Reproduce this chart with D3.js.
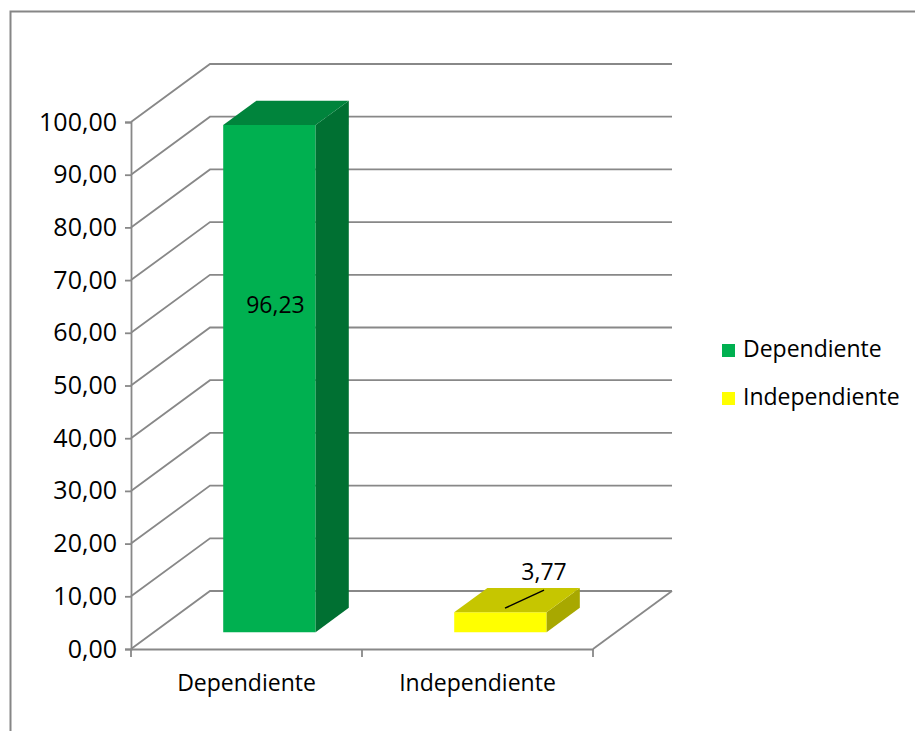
<!DOCTYPE html>
<html><head><meta charset="utf-8">
<script src="https://cdn.jsdelivr.net/npm/d3@7"></script>
<style>body{margin:0;background:#fff}svg{display:block}text{font-family:"Open Sans",sans-serif;fill:#000}</style>
</head><body>
<script>
const categories = ["Dependiente", "Independiente"];
const values = [96.23, 3.77];
const valueLabels = ["96,23", "3,77"];
const tickValues = [0,10,20,30,40,50,60,70,80,90,100];
const colors = [
  {front:"#00B050", top:"#00843C", side:"#007032"},
  {front:"#FFFF00", top:"#C6C600", side:"#A8A800"}
];

const W = 915, H = 731, FS = "23px", TFS = "25px";
const svg = d3.select("body").append("svg").attr("width", W).attr("height", H);
svg.append("rect").attr("x",10.5).attr("y",11.5).attr("width",W+10).attr("height",H+10)
  .attr("fill","#fff").attr("stroke","#868686").attr("stroke-width",2);

const y = d3.scaleLinear().domain([0,100]).range([649,122]);
const x = d3.scaleBand().domain(categories).range([131,593]);
const DX = 79, DY = -58;
const P = (px, val, z) => [px + z*DX, y(val) + z*DY];
const grid = "#888888";
const g = svg.append("g");

tickValues.forEach(t => {
  const a = P(131, t, 0), b = P(131, t, 1), c = P(593, t, 1);
  g.append("polyline").attr("points",[a,b,c].map(p=>p.join(",")).join(" "))
    .attr("fill","none").attr("stroke",grid).attr("stroke-width",1.8);
});
{
  const a = P(593,0,0), b = P(593,0,1);
  g.append("line").attr("x1",a[0]).attr("y1",a[1]).attr("x2",b[0]).attr("y2",b[1])
    .attr("stroke",grid).attr("stroke-width",1.8);
}

const fmt = v => d3.format(".2f")(v).replace(".", ",");
const ya = svg.append("g").attr("transform","translate(131,0)")
  .call(d3.axisLeft(y).tickValues(tickValues).tickFormat(fmt).tickSize(6).tickPadding(8));
ya.select(".domain").attr("stroke",grid).attr("stroke-width",1.8);
ya.selectAll(".tick line").attr("stroke",grid).attr("stroke-width",1.8);
ya.selectAll("text").style("font-size",TFS).style("font-family","'Open Sans',sans-serif").attr("fill","#000");

const xa = svg.append("g").attr("transform","translate(0,649)")
  .call(d3.axisBottom(x).tickSize(0).tickPadding(26));
xa.select(".domain").attr("stroke",grid).attr("stroke-width",1.8);
xa.selectAll("text").style("font-size",FS).style("font-family","'Open Sans',sans-serif").attr("fill","#000");
[131, 131+x.bandwidth(), 593].forEach(px => {
  svg.append("line").attr("x1",px).attr("x2",px).attr("y1",649).attr("y2",657)
    .attr("stroke",grid).attr("stroke-width",1.8);
});

const z0 = 0.29, z1 = 0.71, bw = 0.4;
categories.forEach((c, i) => {
  const cx = x(c) + x.bandwidth()/2;
  const x0 = cx - x.bandwidth()*bw/2, x1 = cx + x.bandwidth()*bw/2;
  const v = values[i], col = colors[i];
  const poly = (pts, fill) => svg.append("polygon")
    .attr("points", pts.map(p=>p.join(",")).join(" ")).attr("fill", fill);
  poly([P(x0,0,z0),P(x1,0,z0),P(x1,v,z0),P(x0,v,z0)], col.front);
  poly([P(x1,0,z0),P(x1,0,z1),P(x1,v,z1),P(x1,v,z0)], col.side);
  poly([P(x0,v,z0),P(x1,v,z0),P(x1,v,z1),P(x0,v,z1)], col.top);
});

{
  const c = categories[0];
  svg.append("text").attr("x", x(c)+x.bandwidth()/2+29).attr("y", 307)
    .attr("text-anchor","middle").attr("dominant-baseline","middle")
    .style("font-size",FS).text(valueLabels[0]);
}
{
  const c = categories[1];
  const cx = x(c)+x.bandwidth()/2;
  const top = P(cx, values[1], 0.5);
  svg.append("line").attr("x1", top[0]-12).attr("y1", top[1]+8).attr("x2", top[0]+27).attr("y2", top[1]-10)
    .attr("stroke","#000").attr("stroke-width",1.5);
  svg.append("text").attr("x", top[0]+27).attr("y", top[1]-26)
    .attr("text-anchor","middle").attr("dominant-baseline","middle")
    .style("font-size",FS).text(valueLabels[1]);
}

const lg = svg.append("g").attr("transform","translate(722,344)");
categories.forEach((c,i) => {
  const row = lg.append("g").attr("transform",`translate(0,${i*48})`);
  row.append("rect").attr("width",13).attr("height",13).attr("fill",colors[i].front);
  row.append("text").attr("x",21).attr("y",7).attr("dominant-baseline","middle")
    .style("font-size",FS).text(c);
});
</script>
</body></html>
